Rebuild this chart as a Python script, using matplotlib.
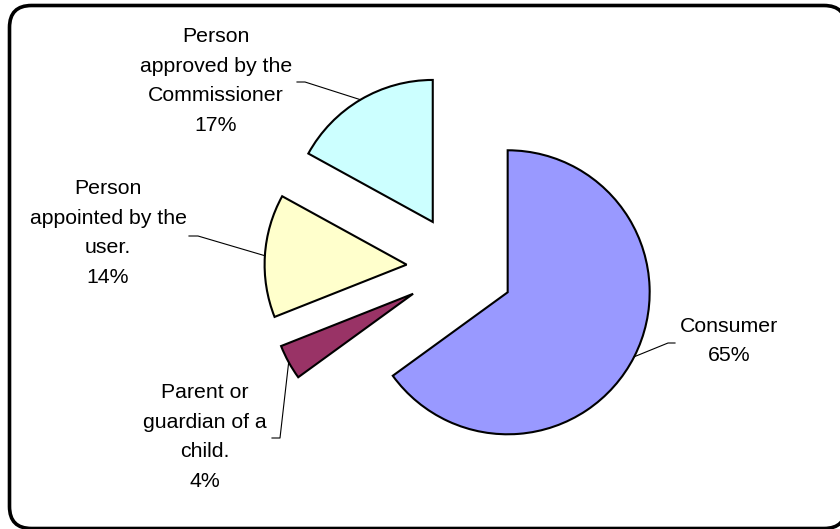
import matplotlib.pyplot as plt
from matplotlib.patches import FancyBboxPatch
from matplotlib.transforms import IdentityTransform
import numpy as np

plt.rcParams['font.family'] = ['Liberation Sans', 'DejaVu Sans']

labels = ['Consumer', 'Parent or\nguardian of a\nchild.',
          'Person\nappointed by the\nuser.',
          'Person\napproved by the\nCommissioner']
shares = [65, 4, 14, 17]
colors = ['#9999FF', '#993366', '#FFFFCC', '#CCFFFF']

W, H = 840, 529
# label text centres and the short horizontal stub of each leader line
text_xy = [(729, 341), (205, 437), (108, 233), (216, 81)]
stub = [((675, 343), (668, 343)), ((272, 438), (280, 438)),
        ((189, 236), (198, 236)), ((297, 82), (305, 82))]

fig = plt.figure(figsize=(W / 100, H / 100), dpi=100)
ax = fig.add_axes([0, 0, 1, 1])

radius = 142
wedges, _ = ax.pie(shares, colors=colors, startangle=90, counterclock=False,
                   center=(460, H - 268), radius=radius,
                   explode=[53.5] * 4,
                   wedgeprops=dict(edgecolor='black', linewidth=1.5))
ax.set_xlim(0, W)
ax.set_ylim(0, H)
ax.axis('off')

for w, lab, share, (tx, ty), (s0, s1) in zip(wedges, labels, shares, text_xy, stub):
    mid = np.deg2rad((w.theta1 + w.theta2) / 2)
    cx, cy = w.center
    px = cx + radius * np.cos(mid)
    py = cy + radius * np.sin(mid)
    ax.plot([s0[0], s1[0], px], [H - s0[1], H - s1[1], py],
            color='black', lw=0.8)
    ax.text(tx, H - ty, f'{lab}\n{share}%', ha='center', va='center',
            fontsize=15.3, linespacing=1.69, multialignment='center')

# rounded chart border, running off the right and bottom edges
# (filled white so agg does not clip the curved corners badly)
frame = FancyBboxPatch((9.5, 0.5), 836.5, 523,
                       boxstyle='round,pad=0,rounding_size=22',
                       facecolor='white', edgecolor='black', lw=2.6,
                       transform=IdentityTransform(), zorder=-1)
fig.add_artist(frame)

fig.savefig('out.png', dpi=100)
